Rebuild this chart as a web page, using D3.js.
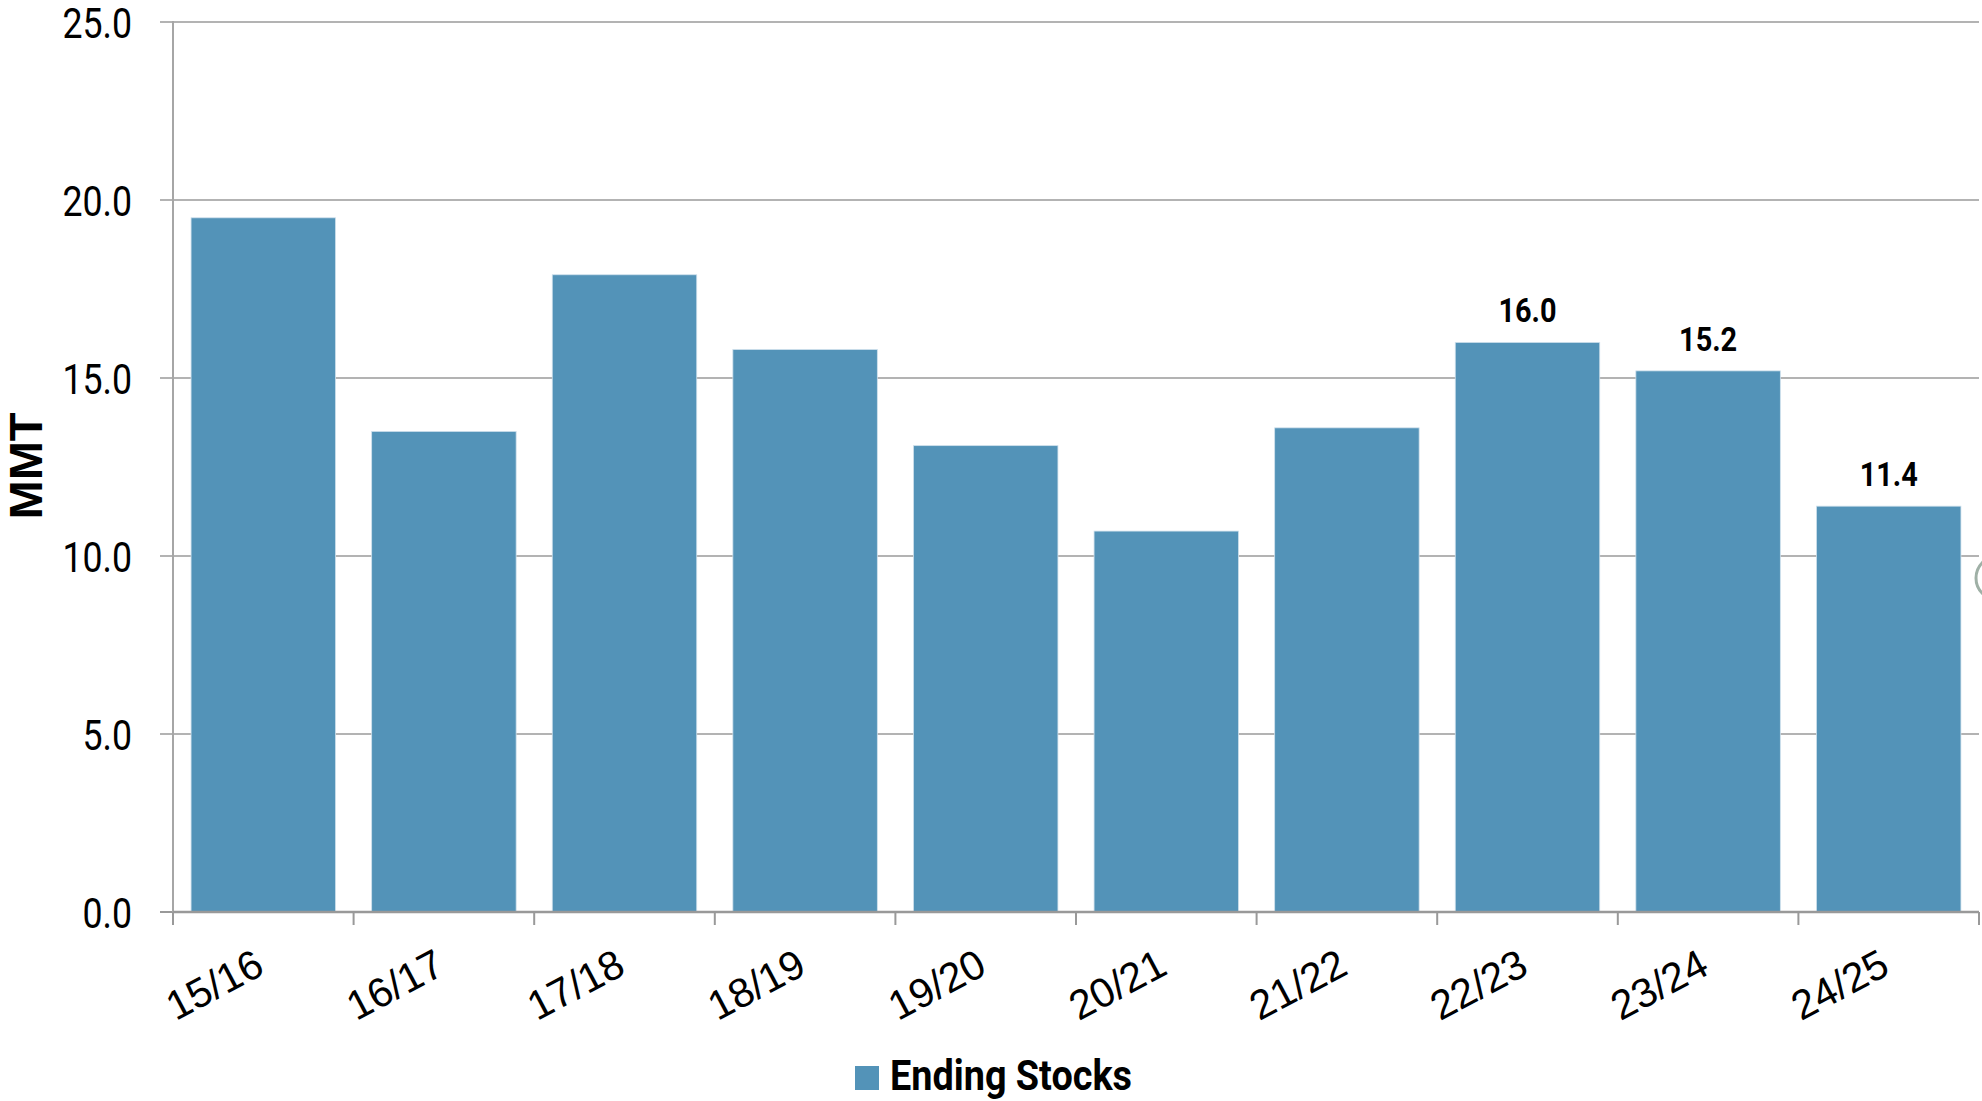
<!DOCTYPE html>
<html>
<head>
<meta charset="utf-8">
<script src="https://cdn.jsdelivr.net/npm/d3@7"></script>
<style>
  html, body { margin: 0; padding: 0; background: #ffffff; }
  svg { display: block; }
</style>
</head>
<body>
<svg id="chart" width="1982" height="1101"></svg>
<script>
const categories = ["15/16","16/17","17/18","18/19","19/20","20/21","21/22","22/23","23/24","24/25"];
const endingStocks = [19.5, 13.5, 17.9, 15.8, 13.1, 10.7, 13.6, 16.0, 15.2, 11.4];
const labelledCategories = ["22/23","23/24","24/25"];
const yTicks = [0, 5, 10, 15, 20, 25];
const seriesName = "Ending Stocks";
const yTitle = "MMT";

(function () {
const svg = d3.select("#chart");
const plotLeft = 173, plotRight = 1979, plotTop = 22, plotBottom = 912;
const barColor = "#5393b8";
const condensed = 0.85;

const x = d3.scaleBand().domain(categories).range([plotLeft, plotRight]).paddingInner(0.2).paddingOuter(0.1);
const y = d3.scaleLinear().domain([0, 25]).range([plotBottom, plotTop]);
const step = x.step();

// gridlines
svg.append("g").selectAll("line").data(yTicks.filter(d => d > 0)).join("line")
  .attr("x1", plotLeft - 13).attr("x2", plotRight)
  .attr("y1", d => y(d)).attr("y2", d => y(d))
  .attr("stroke", "#b3b3b3").attr("stroke-width", 2);

// y tick mark at 0
svg.append("line").attr("x1", plotLeft - 13).attr("x2", plotLeft).attr("y1", y(0)).attr("y2", y(0))
  .attr("stroke", "#999").attr("stroke-width", 2);

// y axis line
svg.append("line").attr("x1", plotLeft).attr("x2", plotLeft).attr("y1", plotTop - 1).attr("y2", plotBottom + 13)
  .attr("stroke", "#a6a6a6").attr("stroke-width", 2);

// y tick labels
svg.append("g").selectAll("text").data(yTicks).join("text")
  .attr("transform", d => `translate(${plotLeft - 41},${y(d) + 16}) scale(${condensed},1)`)
  .attr("text-anchor", "end")
  .attr("font-family", "Roboto, sans-serif")
  .attr("font-size", 42)
  .attr("fill", "#000")
  .text(d => d3.format(".1f")(d));

// bars
svg.append("g").selectAll("rect").data(categories).join("rect")
  .attr("x", d => x(d))
  .attr("width", x.bandwidth())
  .attr("y", (d, i) => y(endingStocks[i]))
  .attr("height", (d, i) => y(0) - y(endingStocks[i]))
  .attr("fill", barColor)
  .attr("stroke", "#cfe0ec").attr("stroke-width", 0.8);

// x axis line
svg.append("line").attr("x1", plotLeft).attr("x2", plotRight).attr("y1", y(0)).attr("y2", y(0))
  .attr("stroke", "#999").attr("stroke-width", 2.5);

// x tick marks at band boundaries
const boundaries = categories.map(c => x(c) - step * 0.1).concat([plotRight]);
svg.append("g").selectAll("line").data(boundaries).join("line")
  .attr("x1", d => d).attr("x2", d => d)
  .attr("y1", y(0)).attr("y2", y(0) + 13)
  .attr("stroke", "#999").attr("stroke-width", 2);

// x tick labels
svg.append("g").selectAll("text").data(categories).join("text")
  .attr("transform", d => `translate(${x(d) + x.bandwidth() / 2 + 3},${y(0) + 61}) rotate(-28)`)
  .attr("text-anchor", "end")
  .attr("font-family", "'Liberation Sans', Arial, sans-serif")
  .attr("font-size", 41)
  .attr("fill", "#000")
  .text(d => d);

// data labels
svg.append("g").selectAll("text").data(categories.filter(c => labelledCategories.includes(c))).join("text")
  .attr("transform", d => `translate(${x(d) + x.bandwidth() / 2},${y(endingStocks[categories.indexOf(d)]) - 20}) scale(${condensed},1)`)
  .attr("text-anchor", "middle")
  .attr("font-family", "Roboto, sans-serif")
  .attr("font-weight", "bold")
  .attr("font-size", 34)
  .attr("fill", "#000")
  .text(d => d3.format(".1f")(endingStocks[categories.indexOf(d)]));

// y title
svg.append("text")
  .attr("transform", `translate(42,466) rotate(-90)`)
  .attr("text-anchor", "middle")
  .attr("font-family", "'Liberation Sans', Arial, sans-serif")
  .attr("font-weight", "bold")
  .attr("font-size", 47)
  .attr("fill", "#000")
  .text(yTitle);

// legend
svg.append("rect").attr("x", 855).attr("y", 1066).attr("width", 24).attr("height", 24).attr("fill", barColor);
svg.append("text")
  .attr("transform", `translate(890,1090) scale(0.9,1)`)
  .attr("font-family", "Roboto, sans-serif")
  .attr("font-weight", "bold")
  .attr("font-size", 42)
  .attr("fill", "#000")
  .text(seriesName);

// partial decorative circle at right edge
svg.append("circle").attr("cx", 1998).attr("cy", 578).attr("r", 22)
  .attr("fill", "none").attr("stroke", "#9fb0a6").attr("stroke-width", 3);
})();
</script>
</body>
</html>
